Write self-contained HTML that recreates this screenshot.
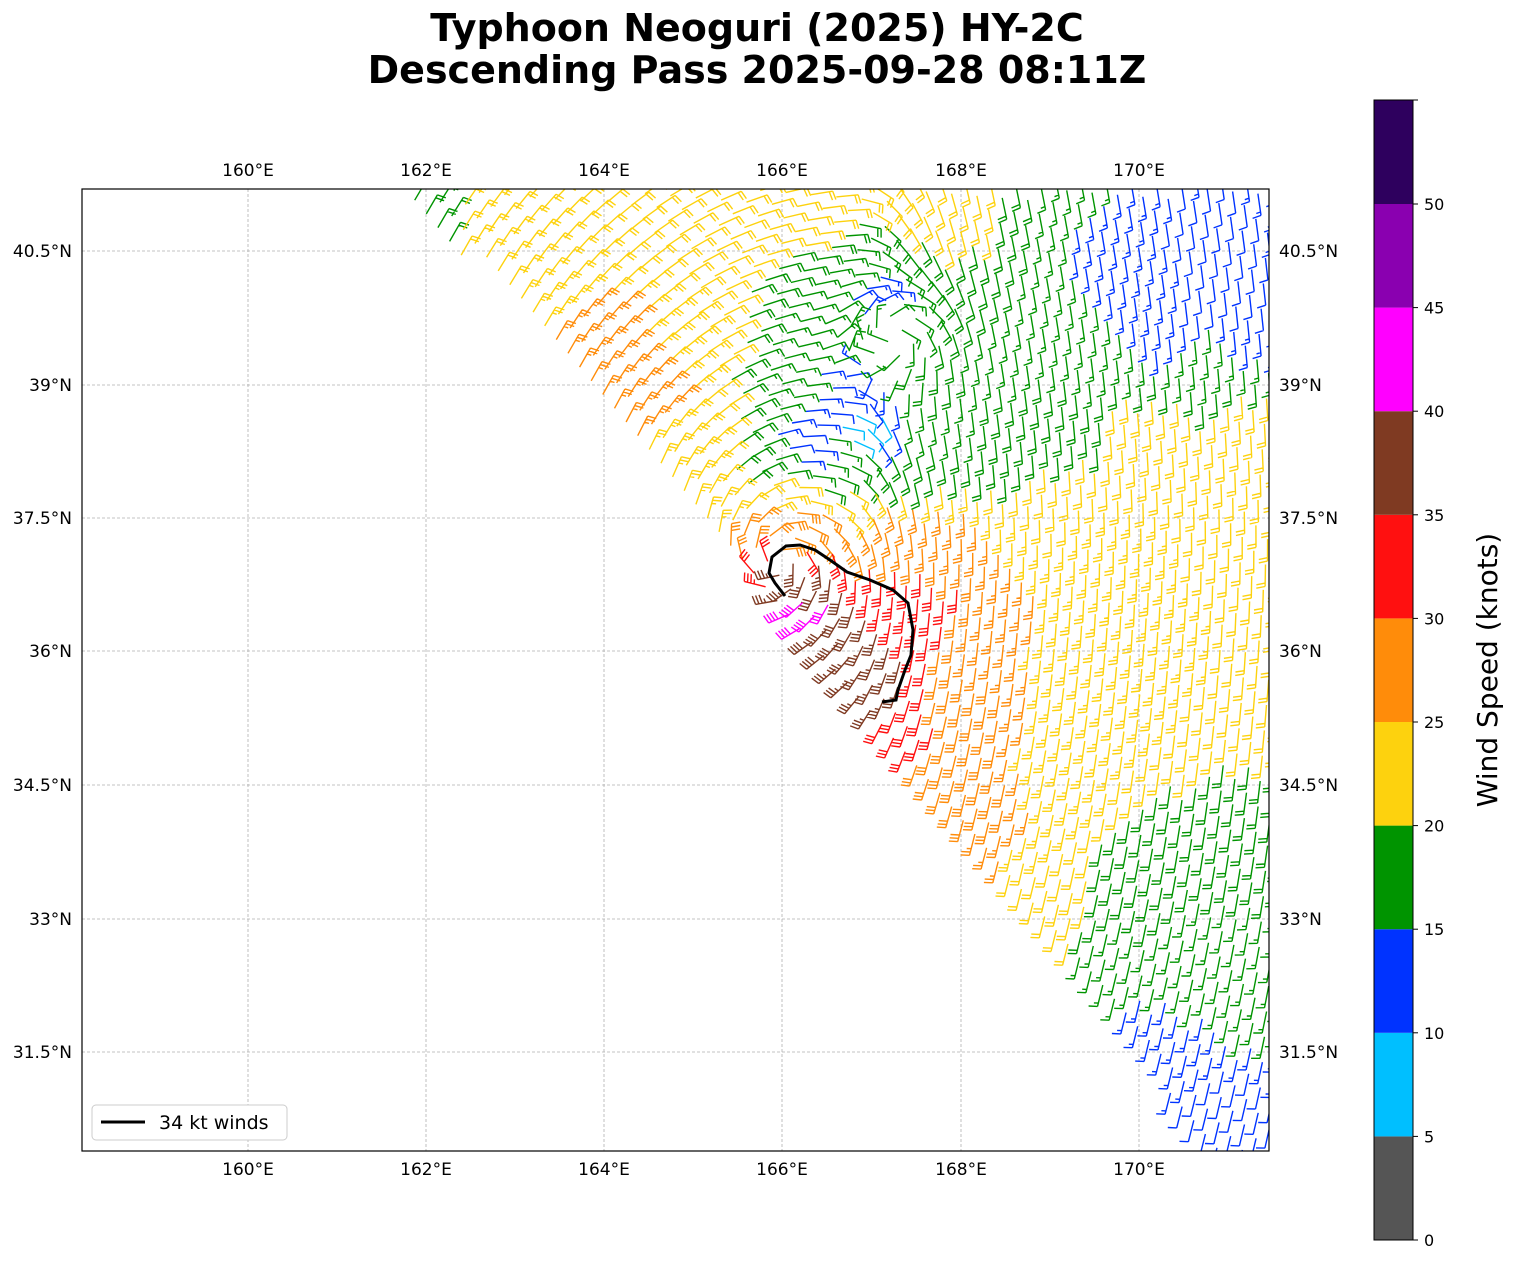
<!DOCTYPE html>
<html><head><meta charset="utf-8"><style>
html,body{margin:0;padding:0;background:#fff}
svg{display:block;font-family:"DejaVu Sans","Liberation Sans",sans-serif}
</style></head><body>
<svg id="s" width="1513" height="1264" xmlns="http://www.w3.org/2000/svg">
<rect width="1513" height="1264" fill="#fff"/>
<text x="757" y="41" font-size="38" font-weight="bold" text-anchor="middle">Typhoon Neoguri (2025) HY-2C</text>
<text x="757" y="83" font-size="38" font-weight="bold" text-anchor="middle">Descending Pass 2025-09-28 08:11Z</text>
<defs><clipPath id="cp"><rect x="82" y="189" width="1187" height="962"/></clipPath></defs>
<g id="grid" stroke="#b0b0b0" stroke-width="0.8" stroke-dasharray="3,2"></g>
<g id="barbs" clip-path="url(#cp)" fill="none" stroke-width="1.4"></g>
<path d="M785,596 L775,583 L769,573 L772,557 L786,546 L800,545 L815,550 L830,560 L847,572 L870,580 L893,590 L908,603 L913,630 L911,655 L905,670 L898,690 L896,700 L882,702" fill="none" stroke="#000" stroke-width="3"/>
<rect x="82" y="189" width="1187" height="962" fill="none" stroke="#000" stroke-width="1.2"/>
<g id="labels" font-size="17"></g>
<rect x="92" y="1105" width="195" height="35" rx="4" fill="#fff" stroke="#ccc"/>
<line x1="101" y1="1122" x2="145" y2="1122" stroke="#000" stroke-width="3"/>
<text x="159" y="1129" font-size="19">34 kt winds</text>
<g id="cb"></g>
<text transform="translate(1497,670) rotate(-90)" font-size="28" text-anchor="middle">Wind Speed (knots)</text>
</svg>
<script>
var NS="http://www.w3.org/2000/svg";
function el(p,t,a,txt){var e=document.createElementNS(NS,t);for(var k in a)e.setAttribute(k,a[k]);if(txt!==undefined)e.textContent=txt;p.appendChild(e);return e;}
var G=document.getElementById('grid'),L=document.getElementById('labels');
var lons=[[160,248],[162,426],[164,604],[166,782],[168,961],[170,1139]];
var lats=[["40.5",251],["39",385],["37.5",518],["36",651],["34.5",785],["33",919],["31.5",1052]];
lons.forEach(function(a){el(G,'line',{x1:a[1],y1:189,x2:a[1],y2:1151});
 el(L,'text',{x:a[1],y:176,'text-anchor':'middle'},a[0]+'°E');
 el(L,'text',{x:a[1],y:1175,'text-anchor':'middle'},a[0]+'°E');});
lats.forEach(function(a){el(G,'line',{x1:82,y1:a[1],x2:1269,y2:a[1]});
 el(L,'text',{x:72,y:a[1]+6,'text-anchor':'end'},a[0]+'°N');
 el(L,'text',{x:1279,y:a[1]+6},a[0]+'°N');});
var cols=['#555555','#00bfff','#0033ff','#009400','#fdd20e','#ff8c0a','#ff1010','#7f3a22','#ff00ff','#8a00b0','#2e005e'];
var CB=document.getElementById('cb');
for(var i=0;i<11;i++){var y0=1240-i*20.72*5;el(CB,'rect',{x:1374,y:y0-103.6,width:39,height:103.6,fill:cols[i]});}
el(CB,'rect',{x:1374,y:100,width:39,height:1140,fill:'none',stroke:'#000','stroke-width':1});
for(var k=0;k<=50;k+=5){var y=1240-k*20.72;el(CB,'line',{x1:1413,y1:y,x2:1418,y2:y,stroke:'#000'});el(CB,'text',{x:1424,y:y+6,'font-size':16},''+k);}
el(CB,'line',{x1:1413,y1:100,x2:1418,y2:100,stroke:'#000'});
var P=[[830,640,38],[815,615,42],[870,660,37],[880,690,36],[800,580,37],[900,620,33],[760,545,30],[800,530,28],[930,600,31],[920,720,31],[900,740,31],[940,760,28],[960,700,28],[980,640,27],[950,540,27],[880,520,27],[980,800,28],[990,860,26],[1020,880,22],[1050,930,22],[1060,760,23],[1060,640,23],[1150,650,23],[1250,700,22],
[1000,350,17],[1100,340,16],[1200,350,16],[1250,340,15],[1200,300,12],[1150,310,13],[1050,420,18],[1150,420,21],[1250,420,22],[1000,440,19],[1050,500,22],[1100,560,24],[1050,600,25],[1000,620,26],[1250,550,22],
[960,420,17],[950,300,18],[1000,200,20],[1050,200,17],[1100,230,14],[1100,280,15],[1200,230,12],[1250,300,12],[1250,820,18],[1150,870,18],[1100,950,17],[1200,950,17],[1150,1050,13],[1230,1100,12],[1260,1000,16],
[420,200,18],[500,200,22],[550,250,22],[600,330,26],[650,400,27],[700,450,23],[680,360,24],[620,260,22],[700,230,22],[760,230,20],[800,200,22],[850,200,22],[900,200,22],[950,200,22],
[800,440,12],[850,400,12],[880,300,13],[830,460,17],[760,470,18],[740,420,20],[780,380,17],[820,330,17],[870,250,17],[900,330,17],[860,425,8],[760,500,22],[720,510,23],[850,480,20],[900,460,18],[930,380,18]];
function speed(x,y){var sw=0,sv=0;for(var i=0;i<P.length;i++){var dx=x-P[i][0],dy=y-P[i][1];var d2=dx*dx+dy*dy+25;var w=1/(d2*d2);sw+=w;sv+=w*P[i][2];}return sv/sw;}
function cl(v){return v<0?0:v>1?1:v;}
var ux=0.646,uy=0.763,vx=0.763,vy=-0.646,S=18;
var paths={};
for(var i=-5;i<110;i++)for(var j=0;j<80;j++){
 var x=400+i*S*ux+(j*S+4)*vx,y=189+i*S*uy+(j*S+4)*vy;
 if(x<70||x>1285||y<175||y>1165)continue;
 var t=(y-189)/962;var ex=400+t*815+22*Math.sin(Math.PI*cl(t));
 if(x<ex)continue;
 var sp=speed(x,y);var kk=Math.round(sp/5)*5;if(kk<0)kk=0;
 var ci=Math.min(10,Math.floor(sp/5));if(ci<0)ci=0;
 var rx=x-780,ry=y-560,rl=Math.hypot(rx,ry)||1;rx/=rl;ry/=rl;
 var dx=-ry+rx*0.25,dy=rx+ry*0.25;
 var kE=cl((x-850)/120)*3;dx+=kE*(-0.1);dy+=kE*1;
 var dl=Math.hypot(dx,dy)||1;dx/=dl;dy/=dl;
 var qx=x-895,qy=y-335,ql=Math.hypot(qx,qy)||1;var w=Math.exp(-(ql/60)*(ql/60));
 var lx=-(qy/ql)*0.9+(qx/ql)*0.4,ly=(qx/ql)*0.9+(qy/ql)*0.4;
 dx=dx*(1-w)+lx*w;dy=dy*(1-w)+ly*w;dl=Math.hypot(dx,dy)||1;dx/=dl;dy/=dl;
 var nx=-dy,ny=dx;
 var Ls=22,tipx=x+dx*Ls,tipy=y+dy*Ls;
 var d='M'+x.toFixed(1)+','+y.toFixed(1)+'L'+tipx.toFixed(1)+','+tipy.toFixed(1);
 var fx=0.97*nx+0.2*dx,fy=0.97*ny+0.2*dy;
 var full=Math.floor(kk/10),half=(kk%10)>=5,pos=0;
 if(full==0&&half)pos=3.4;
 for(var f=0;f<full;f++){var px=tipx-dx*pos,py=tipy-dy*pos;d+='M'+px.toFixed(1)+','+py.toFixed(1)+'l'+(fx*9).toFixed(1)+','+(fy*9).toFixed(1);pos+=3.4;}
 if(half){var px=tipx-dx*pos,py=tipy-dy*pos;d+='M'+px.toFixed(1)+','+py.toFixed(1)+'l'+(fx*4.5).toFixed(1)+','+(fy*4.5).toFixed(1);}
 paths[ci]=(paths[ci]||'')+d;}
var B=document.getElementById('barbs');
for(var c in paths)el(B,'path',{d:paths[c],stroke:cols[c]});
</script>
</body></html>
